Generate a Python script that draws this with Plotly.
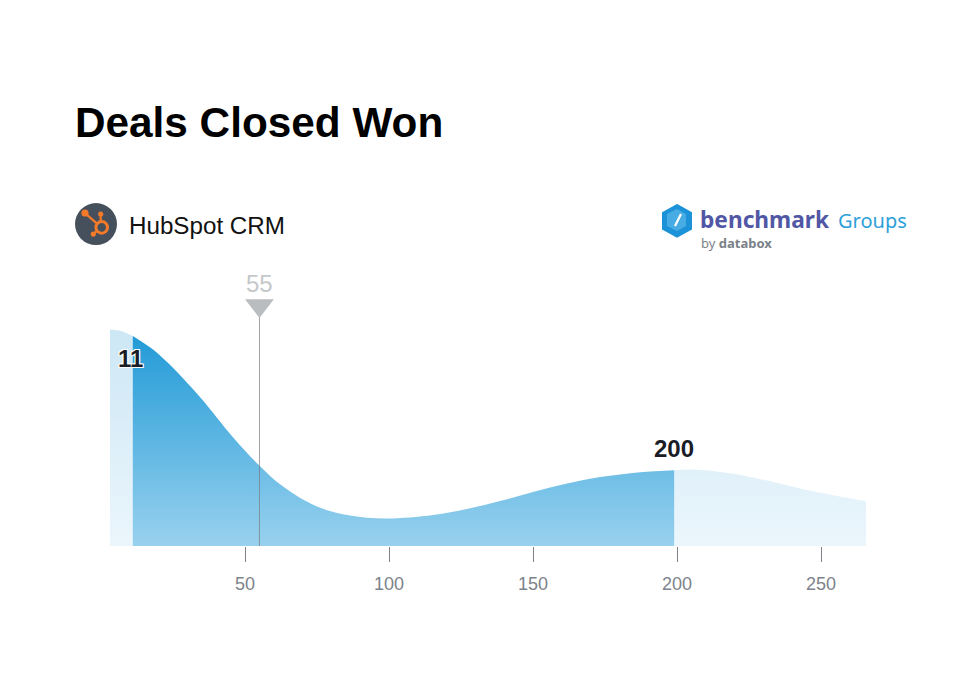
import plotly.graph_objects as go

# ---------- data ----------
TITLE = "Deals Closed Won"
SOURCE = "HubSpot CRM"
curve_x = [3.1, 6.9, 11, 17, 23, 34.4, 45.8, 55, 63.2, 75, 86.5, 98.6, 115.3, 127, 138.5, 150,
           161.8, 173.3, 187.2, 199, 207, 219.4, 231.3, 242.7, 254.2, 265.6]
curve_y = [217, 215.5, 210.5, 199, 184, 149, 109, 80.5, 59.5, 39.5, 30.5, 27.5, 31, 37, 45, 54,
           62.5, 69, 74, 76, 76.5, 72.5, 65.5, 57.5, 50.8, 44.8]
low_x, low_label = 11, "11"
high_x, high_label = 199, "200"
median_x, median_label = 55, "55"
median_top = 241
tick_vals = [50, 100, 150, 200, 250]
tick_text = ["50", "100", "150", "200", "250"]

# ---------- layout constants ----------
W, H = 975, 675
L, R, T, B = 110, 866, 270, 546.5
FONT = "Liberation Sans"


def px(x):
    return (x - L) / (R - L)


def py(y):
    return (B - y) / (B - T)


def segment(a, b):
    pairs = [(x, y) for x, y in zip(curve_x, curve_y) if a <= x <= b]
    return [p[0] for p in pairs], [p[1] for p in pairs]


def area(a, b, bottom, top):
    xs, ys = segment(a, b)
    return go.Scatter(
        x=xs, y=ys, mode="lines", line=dict(width=0, shape="spline", smoothing=1.0),
        fill="tozeroy", hoverinfo="skip", showlegend=False,
        fillgradient=dict(type="vertical", colorscale=[[0, bottom], [1, top]],
                          start=0, stop=max(curve_y)),
    )


fig = go.Figure()
LIGHT_B, LIGHT_T = "#ebf6fc", "#cde7f5"
DARK_B, DARK_T = "#98d1ee", "#1f99d6"
fig.add_trace(area(curve_x[0], low_x, LIGHT_B, LIGHT_T))
fig.add_trace(area(high_x, curve_x[-1], LIGHT_B, LIGHT_T))
fig.add_trace(area(low_x, high_x, DARK_B, DARK_T))

fig.add_trace(go.Scatter(x=[median_x, median_x], y=[0, median_top], mode="lines",
                         line=dict(color="rgba(120,126,132,0.7)", width=1),
                         hoverinfo="skip", showlegend=False))
fig.add_trace(go.Scatter(x=[median_x], y=[median_top], mode="markers",
                         marker=dict(symbol="triangle-down", size=25, color="#babdc0", line=dict(width=0)),
                         hoverinfo="skip", showlegend=False))

halo = ",".join(f"{a}px {b}px 0 #fff" for a in (-1, 1) for b in (-1, 1))
annotations = [
    dict(x=median_x, y=median_top, xref="x", yref="y", text=median_label, showarrow=False, yshift=22,
         font=dict(family=FONT, size=24, color="#c5c7ca")),
    dict(x=low_x, y=187.5, xref="x", yref="y", text=low_label, showarrow=False, xshift=-2,
         font=dict(family=FONT, size=24, color="#1b1d26", weight="bold", shadow=halo)),
    dict(x=high_x, y=97.5, xref="x", yref="y", text=high_label, showarrow=False,
         font=dict(family=FONT, size=24, color="#1b1d26", weight="bold")),
    dict(x=px(76), y=py(122), xref="paper", yref="paper", xanchor="left", yanchor="middle", text=TITLE,
         showarrow=False, xshift=-3, font=dict(family=FONT, size=42.3, color="#000000", weight="bold")),
    dict(x=px(129), y=py(225), xref="paper", yref="paper", xanchor="left", yanchor="middle", text=SOURCE,
         showarrow=False, xshift=-2, font=dict(family=FONT, size=24.2, color="#111111")),
    dict(x=px(699), y=py(219.5), xref="paper", yref="paper", xanchor="left", yanchor="middle", text="benchmark",
         showarrow=False, xshift=-1, font=dict(family="Noto Sans", size=22.7, color="#5157a5", weight="bold")),
    dict(x=px(837), y=py(220), xref="paper", yref="paper", xanchor="left", yanchor="middle", text="Groups",
         showarrow=False, xshift=-1, font=dict(family="Noto Sans", size=20, color="#2e9fd9")),
    dict(x=px(700), y=py(243), xref="paper", yref="paper", xanchor="left", yanchor="middle",
         text="by <b>databox</b>", showarrow=False, xshift=-1,
         font=dict(family="Noto Sans", size=13, color="#7b8189")),
]


# ---------- source and brand icons ----------
def circle(cx, cy, r, **kw):
    return dict(type="circle", xref="paper", yref="paper", x0=px(cx - r), x1=px(cx + r),
                y0=py(cy + r), y1=py(cy - r), **kw)


def line(x0, y0, x1, y1, color, width):
    return dict(type="line", xref="paper", yref="paper", x0=px(x0), x1=px(x1), y0=py(y0), y1=py(y1),
                line=dict(color=color, width=width))


def poly(points, **kw):
    path = "M " + " L ".join(f"{px(a):.5f},{py(b):.5f}" for a, b in points) + " Z"
    return dict(type="path", xref="paper", yref="paper", path=path, **kw)


ORANGE = "#f47a2a"
shapes = [
    circle(96, 224, 21, fillcolor="#46505c", line=dict(width=0)),
    line(85, 213, 101, 227, ORANGE, 2.2),
    line(100.7, 214, 100.7, 224, ORANGE, 2.2),
    line(93.3, 234, 101, 227, ORANGE, 2.2),
    circle(85, 213, 3.6, fillcolor=ORANGE, line=dict(width=0)),
    circle(100.7, 214, 2.6, fillcolor=ORANGE, line=dict(width=0)),
    circle(93.3, 234, 2.6, fillcolor=ORANGE, line=dict(width=0)),
    circle(101.7, 227.3, 5.8, fillcolor="#46505c", line=dict(color=ORANGE, width=3)),
    poly([(677, 205.5), (690.5, 213), (690.5, 228.5), (677, 236), (663.5, 228.5), (663.5, 213)],
         fillcolor="#1c93d8", line=dict(color="#1c93d8", width=3)),
    poly([(677, 209), (686, 214), (686, 226), (677, 231), (667, 226), (667, 214)],
         fillcolor="#46ace3", line=dict(width=0)),
    line(675, 226, 681, 214, "#ffffff", 2.2),
]

fig.update_layout(
    width=W, height=H, margin=dict(l=L, r=W - R, t=T, b=H - B, pad=0),
    paper_bgcolor="#ffffff", plot_bgcolor="#ffffff", showlegend=False,
    xaxis=dict(range=[3.1, 265.6], tickvals=tick_vals, ticktext=tick_text, ticks="outside", ticklen=15,
               tickwidth=1.2, tickcolor="#7f848a", showgrid=False, zeroline=False, showline=False,
               ticklabelstandoff=6, tickfont=dict(family=FONT, size=18, color="#7d838b")),
    yaxis=dict(range=[0, B - T], visible=False, showgrid=False, zeroline=False),
    annotations=annotations, shapes=shapes,
)

fig.write_html("out.html", config={"displayModeBar": False},
               post_script="document.body.style.margin='0';document.body.style.overflow='hidden';")
